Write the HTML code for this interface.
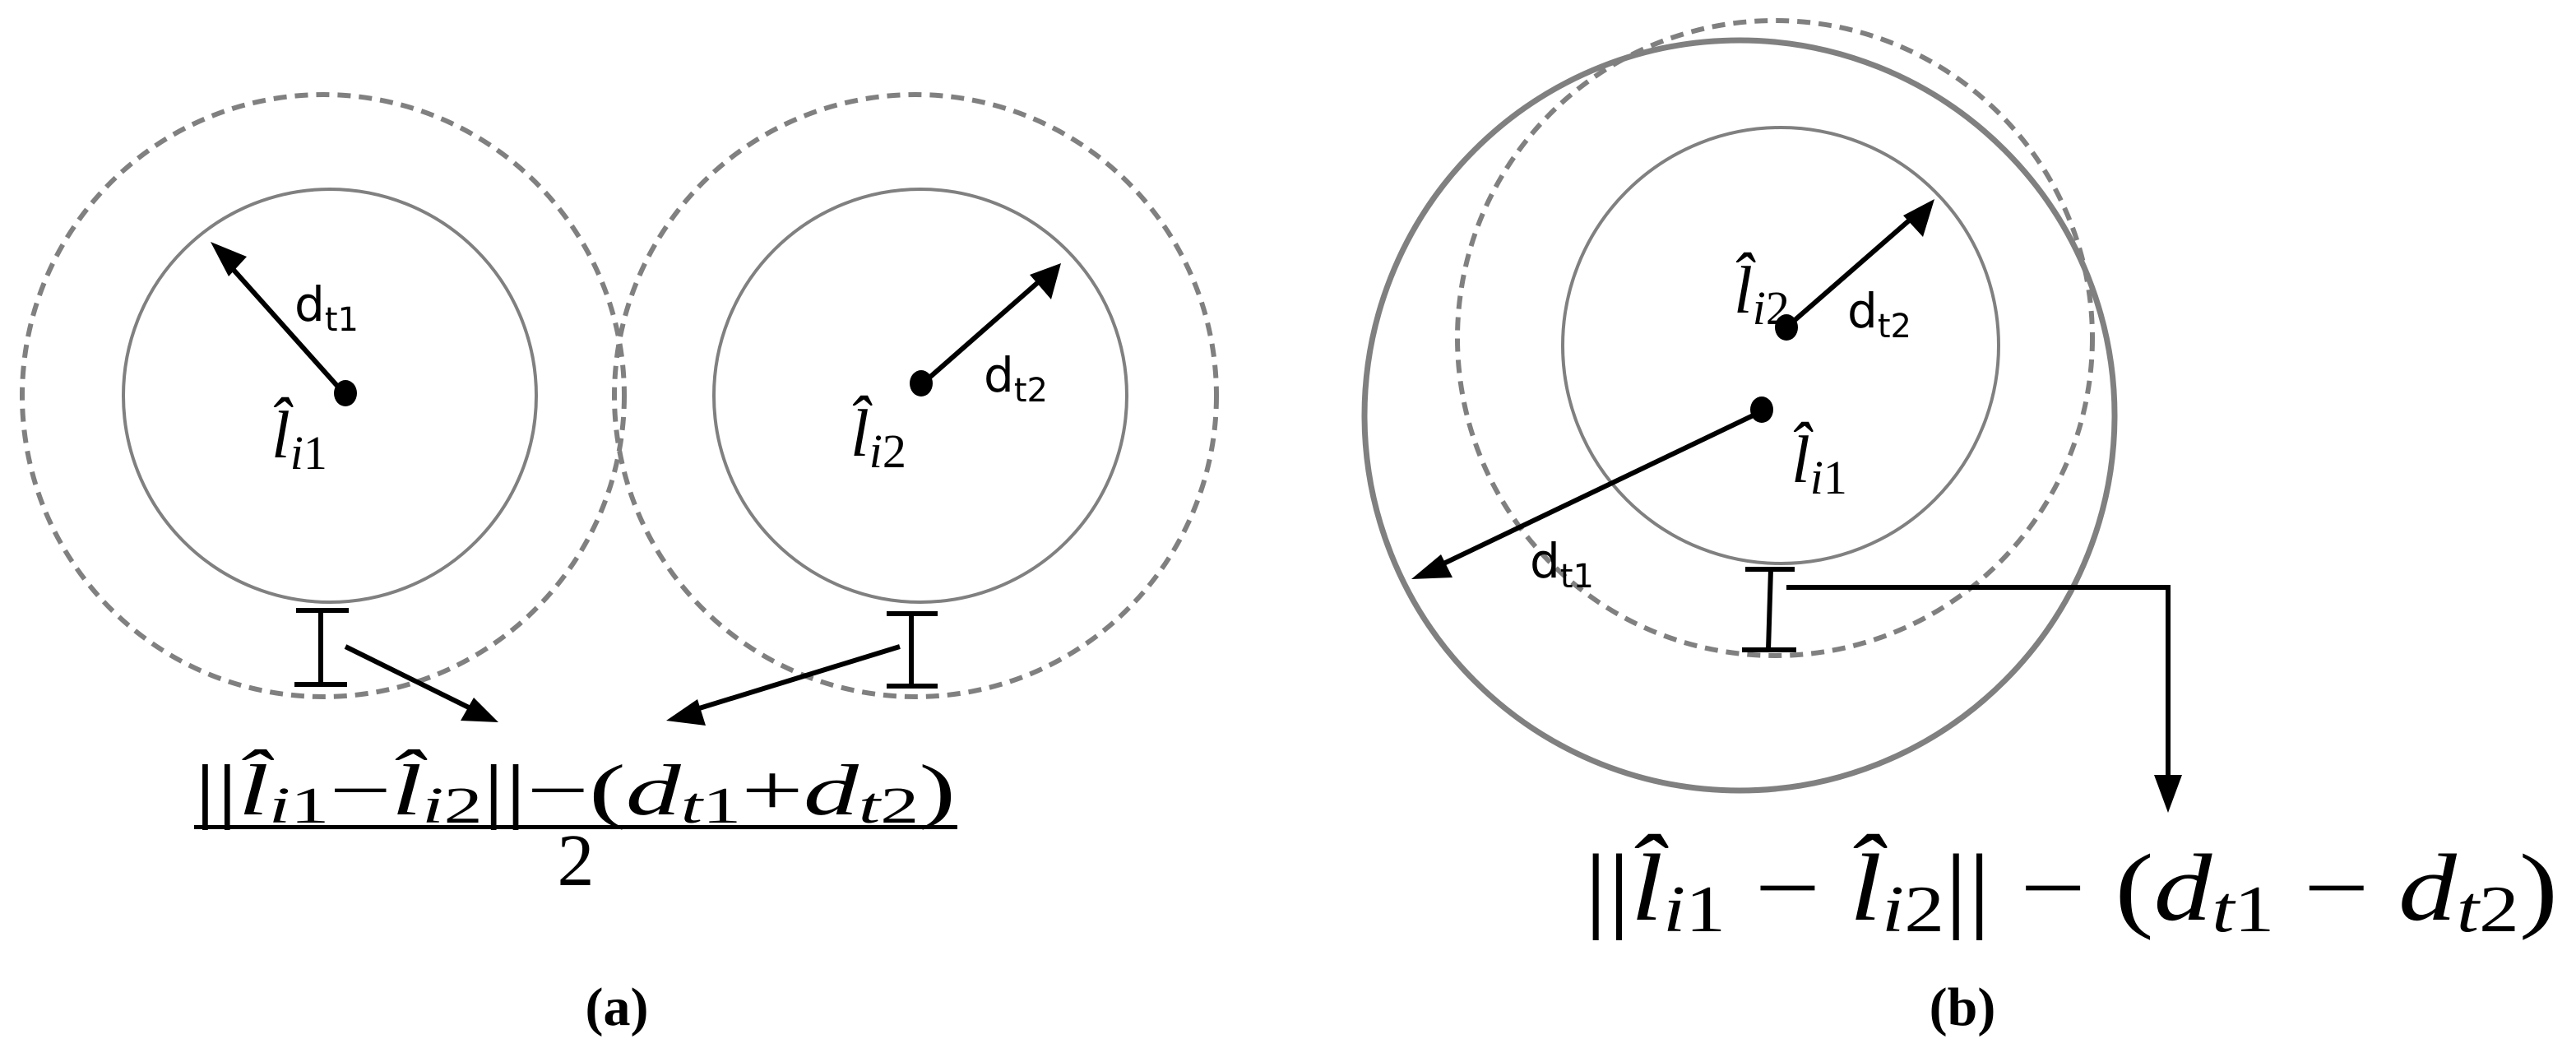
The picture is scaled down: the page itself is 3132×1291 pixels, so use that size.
<!DOCTYPE html>
<html><head><meta charset="utf-8"><style>
html,body{margin:0;padding:0;background:#fff;}
svg{display:block;}
.m{font-family:"Liberation Serif",serif;font-style:italic;}
.r{font-family:"Liberation Serif",serif;font-style:normal;}
.s{font-family:"DejaVu Sans","Liberation Sans",sans-serif;}
</style></head><body>
<svg width="3132" height="1291" viewBox="0 0 3132 1291" xmlns="http://www.w3.org/2000/svg">
<g fill="none" stroke="#808080">
<circle cx="393" cy="481" r="366" stroke-width="6" stroke-dasharray="16,10"/>
<circle cx="401" cy="481" r="251" stroke-width="4"/>
<circle cx="1113" cy="481" r="366" stroke-width="6" stroke-dasharray="16,10"/>
<circle cx="1119" cy="481" r="251" stroke-width="4"/>
<ellipse cx="2115" cy="505" rx="456" ry="456" stroke-width="7"/>
<circle cx="2158" cy="411" r="386" stroke-width="6" stroke-dasharray="16,10"/>
<circle cx="2165" cy="420" r="265" stroke-width="4"/>
</g>
<g stroke="#000" stroke-width="6" fill="none">
<line x1="418" y1="478" x2="275" y2="318"/>
<line x1="1122" y1="466" x2="1268" y2="338"/>
<line x1="390" y1="742" x2="390" y2="832"/><line x1="360" y1="742" x2="424" y2="742"/><line x1="358" y1="832" x2="422" y2="832"/>
<line x1="1108" y1="746" x2="1108" y2="834"/><line x1="1078" y1="746" x2="1140" y2="746"/><line x1="1078" y1="834" x2="1140" y2="834"/>
<line x1="420" y1="786" x2="582" y2="866"/>
<line x1="1094" y1="786" x2="834" y2="866"/>
<line x1="2172" y1="398" x2="2328" y2="262"/>
<line x1="2142" y1="500" x2="1745" y2="690"/>
<line x1="2153" y1="692" x2="2150" y2="790"/><line x1="2122" y1="692" x2="2182" y2="692"/><line x1="2118" y1="790" x2="2184" y2="790"/>
<polyline points="2172,714 2636,714 2636,950"/>
</g>
<g fill="#000">
<polygon points="256,294 300,312 278,336"/>
<polygon points="1290,320 1278,364 1252,334"/>
<polygon points="606,878 560,876 576,848"/>
<polygon points="810,876 848,850 858,882"/>
<polygon points="2352,242 2338,288 2314,262"/>
<polygon points="1716,704 1752,674 1766,702"/>
<polygon points="2636,988 2619,942 2653,942"/>
<ellipse cx="420" cy="478" rx="14" ry="16"/>
<ellipse cx="1120" cy="466" rx="14" ry="16"/>
<ellipse cx="2172" cy="398" rx="14" ry="16"/>
<ellipse cx="2142" cy="498" rx="14" ry="16"/>
<rect x="236" y="1003" width="928" height="5"/>
</g>
<g fill="#000">
<text x="358" y="390" class="s" font-size="58">d<tspan font-size="40" dy="12">t1</tspan></text>
<text x="1196" y="476" class="s" font-size="58">d<tspan font-size="40" dy="12">t2</tspan></text>
<text x="2246" y="398" class="s" font-size="58">d<tspan font-size="40" dy="12">t2</tspan></text>
<text x="1860" y="702" class="s" font-size="58">d<tspan font-size="40" dy="12">t1</tspan></text>
<text x="330" y="556" class="m" font-size="82">l&#770;<tspan font-size="58" dy="14">i</tspan><tspan class="r" font-size="58">1</tspan></text>
<text x="1034" y="554" class="m" font-size="82">l&#770;<tspan font-size="58" dy="14">i</tspan><tspan class="r" font-size="58">2</tspan></text>
<text x="2108" y="380" class="m" font-size="82">l&#770;<tspan font-size="58" dy="14">i</tspan><tspan class="r" font-size="58">2</tspan></text>
<text x="2178" y="586" class="m" font-size="82">l&#770;<tspan font-size="58" dy="14">i</tspan><tspan class="r" font-size="58">1</tspan></text>
<text x="236" y="990" class="m" font-size="88" textLength="926" lengthAdjust="spacingAndGlyphs"><tspan class="r">||</tspan>l&#770;<tspan font-size="62" dy="10">i</tspan><tspan class="r" font-size="62">1</tspan><tspan class="r" dy="-10">−</tspan>l&#770;<tspan font-size="62" dy="10">i</tspan><tspan class="r" font-size="62">2</tspan><tspan class="r" dy="-10">||−(</tspan>d<tspan font-size="62" dy="10">t</tspan><tspan class="r" font-size="62">1</tspan><tspan class="r" dy="-10">+</tspan>d<tspan font-size="62" dy="10">t</tspan><tspan class="r" font-size="62">2</tspan><tspan class="r" dy="-10">)</tspan></text>
<text x="700" y="1076" class="r" font-size="90" text-anchor="middle">2</text>
<text x="1926" y="1118" class="m" font-size="116" textLength="1184" lengthAdjust="spacingAndGlyphs"><tspan class="r">||</tspan>l&#770;<tspan font-size="80" dy="14">i</tspan><tspan class="r" font-size="80">1</tspan><tspan class="r" dy="-14"> − </tspan>l&#770;<tspan font-size="80" dy="14">i</tspan><tspan class="r" font-size="80">2</tspan><tspan class="r" dy="-14">|| − (</tspan>d<tspan font-size="80" dy="14">t</tspan><tspan class="r" font-size="80">1</tspan><tspan class="r" dy="-14"> − </tspan>d<tspan font-size="80" dy="14">t</tspan><tspan class="r" font-size="80">2</tspan><tspan class="r" dy="-14">)</tspan></text>
<text x="750" y="1246" class="r" font-size="66" font-weight="bold" text-anchor="middle">(a)</text>
<text x="2386" y="1246" class="r" font-size="66" font-weight="bold" text-anchor="middle">(b)</text>
</g>
</svg>
</body></html>
